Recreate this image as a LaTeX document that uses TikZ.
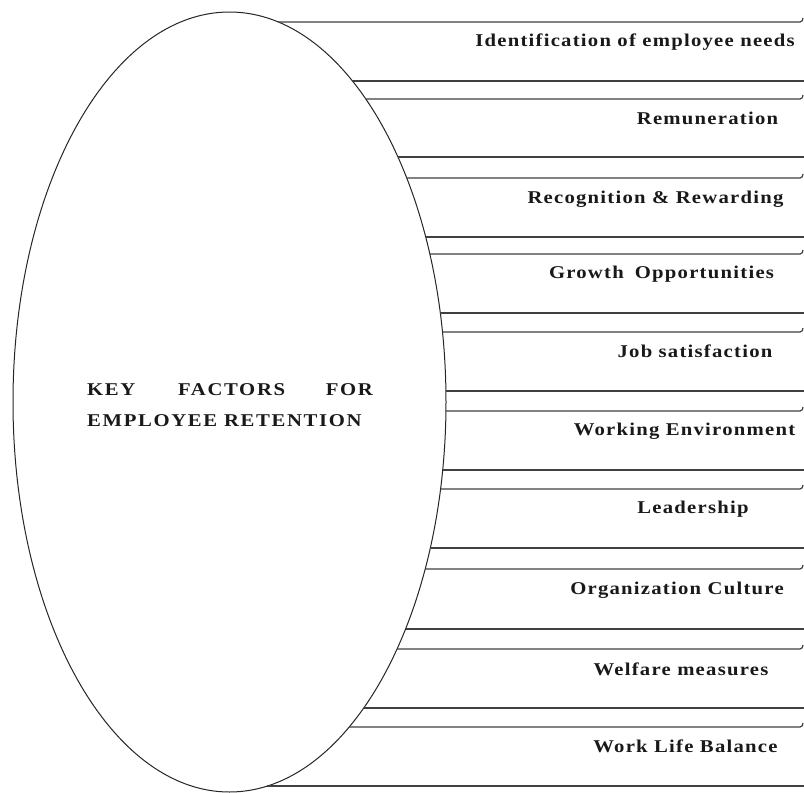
\documentclass[tikz,border=0pt]{standalone}
\usepackage{fontspec}
\usepackage{graphicx}
\setmainfont{Liberation Serif}
\newfontfamily\lblfont[LetterSpace=6]{Liberation Serif}
\newfontfamily\keyfont[LetterSpace=8]{Liberation Serif}
\newcommand\widetext[1]{\scalebox{1.15}[1]{#1}}
\begin{document}
\begin{tikzpicture}[x=1pt,y=-1pt,
  boxline/.style={draw=black!75, line width=1.2pt},
  ellipseline/.style={draw=black!85, line width=1pt},
  lbl/.style={anchor=base, inner sep=0pt, font=\lblfont\bfseries\fontsize{18}{21}\selectfont, text=black!90},
  keytxt/.style={inner sep=0pt, font=\keyfont\bfseries\fontsize{18}{21}\selectfont, text=black!90}]
\useasboundingbox (0,0) rectangle (804,793);
\fill[white] (0,0) rectangle (804,793);
% main ellipse
\draw[ellipseline] (229.5,402) ellipse [x radius=216.5pt, y radius=390pt];
% box lines
\foreach \y in {22,99,178,254,332,411,489,569,649,727} {
  \pgfmathsetmacro\xs{229.5+216.5*sqrt(1-((\y-402)/390)^2)}
  \draw[boxline] (\xs,\y) -- (800,\y) to[out=0,in=-90] (803,\y-4);
}
\foreach \y in {81,157,237,313,391,470,548,629,708,786} {
  \pgfmathsetmacro\xs{229.5+216.5*sqrt(1-((\y-402)/390)^2)}
  \draw[boxline] (\xs,\y) -- (804,\y);
}
% labels
\node[lbl] (l1) at (635,46) {\widetext{Identification of employee needs}};
\node[lbl] (l2) at (707.5,124) {\widetext{Remuneration}};
\node[lbl] (l3) at (655.5,203) {\widetext{Recognition \& Rewarding}};
\node[lbl] (l4) at (661.5,278) {\widetext{Growth\hspace{4pt} Opportunities}};
\node[lbl] (l5) at (695,357) {\widetext{Job satisfaction}};
\node[lbl] (l6) at (684.5,435) {\widetext{Working Environment}};
\node[lbl] (l7) at (693,513) {\widetext{Leadership}};
\node[lbl] (l8) at (677,594) {\widetext{Organization Culture}};
\node[lbl] (l9) at (681,675) {\widetext{Welfare measures}};
\node[lbl] (l10) at (685.5,752) {\widetext{Work Life Balance}};
% central text
\node[keytxt, anchor=base west] (k1) at (87,395) {\widetext{KEY}};
\node[keytxt, anchor=base west] (k2) at (178,395) {\widetext{FACTORS}};
\node[keytxt, anchor=base east] (k3) at (373,395) {\widetext{FOR}};
\node[keytxt, anchor=base west] (k4) at (87,426) {\widetext{EMPLOYEE RETENTION}};
\end{tikzpicture}
\end{document}
